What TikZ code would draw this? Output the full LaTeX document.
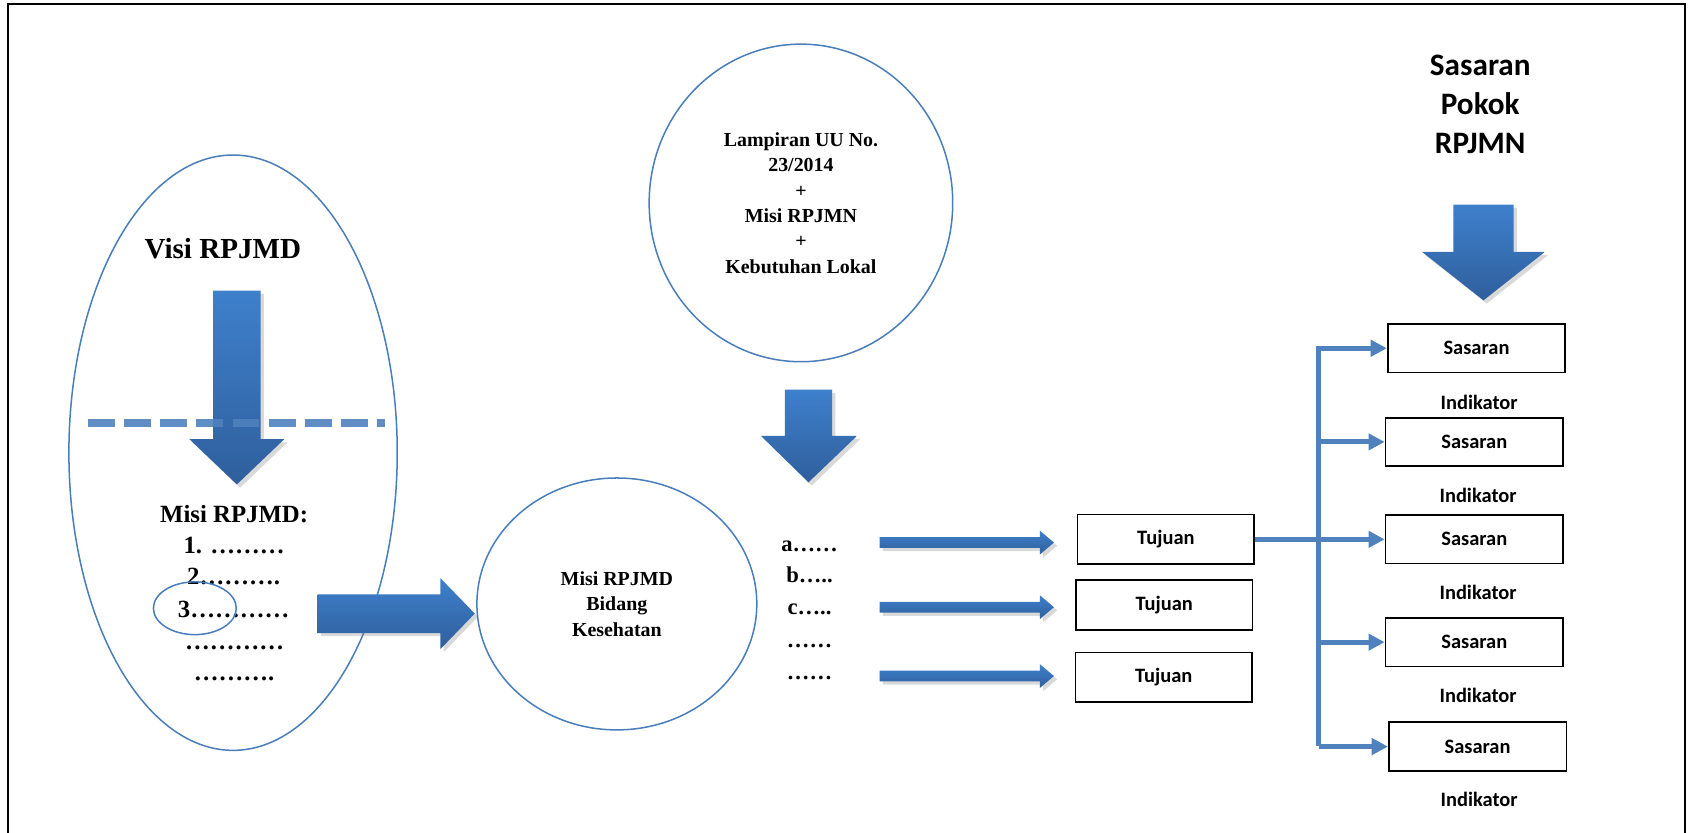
\documentclass[tikz,border=0pt]{standalone}
\usepackage{fontspec}
\setmainfont{Liberation Serif}
\newfontfamily\calibri{Carlito}
\usepackage{tikz}
\usetikzlibrary{shapes.geometric, arrows.meta, shadows, positioning}

\definecolor{outline}{HTML}{4A7EBB}
\definecolor{linkblue}{HTML}{4F81BD}
\definecolor{arrowtop}{HTML}{3E80CC}
\definecolor{arrowbot}{HTML}{2F5F9C}

\begin{document}
\begin{tikzpicture}[x=1pt, y=-1pt]
            %Block styles
            \tikzstyle{oval} = [draw=outline, line width=1.4pt, ellipse, inner sep=0pt]
            \tikzstyle{box} = [draw, line width=1.6pt, rectangle, minimum width=164pt, minimum height=46pt, font=\calibri\bfseries\fontsize{19pt}{22pt}\selectfont]
            \tikzstyle{ind} = [font=\calibri\bfseries\fontsize{19pt}{22pt}\selectfont]
            \tikzstyle{bigtext} = [anchor=base, font=\bfseries\fontsize{23pt}{26pt}\selectfont]
            \tikzstyle{listtext} = [anchor=base, font=\bfseries\fontsize{21pt}{24pt}\selectfont]
            \tikzstyle{blockarrow} = [top color=arrowtop, bottom color=arrowbot, drop shadow={shadow xshift=3pt, shadow yshift=-3pt, opacity=0.3}]
            \tikzstyle{link} = [linkblue, line width=4.6pt]
            \tikzstyle{branch} = [link, -{Triangle[length=15pt, width=15pt]}]

            \useasboundingbox (0,0) rectangle (1568,773);
            \draw[line width=1.8pt] (7.5,4) rectangle (1565,800);

            %Visi / Misi RPJMD
            \path[blockarrow] (198,270) -- (242,270) -- (242,408) -- (264,408) -- (220,450) -- (176,408) -- (198,408) -- cycle;
            \draw[linkblue, opacity=0.9, line width=7.7pt, dash pattern=on 25pt off 8.5pt] (82,393) -- (358,393);
            \node[oval, minimum width=305pt, minimum height=553pt] (visibox) at (216.5,420.5) {};
            \node[bigtext, font=\bfseries\fontsize{27pt}{30pt}\selectfont] (visi) at (207,240) {Visi RPJMD};
            \node[bigtext] (misi) at (217.5,485) {Misi RPJMD:};
            \node[bigtext] (m1) at (217.5,514) {1. ………};
            \node[bigtext] (m2) at (217,543) {2……….};
            \node[bigtext] (m3) at (217,574) {3…………};
            \node[bigtext] (m4) at (218,603) {…………};
            \node[bigtext] (m5) at (217.5,632) {……….};
            \node[oval, minimum width=77pt, minimum height=49pt] (three) at (181,565) {};

            \path[blockarrow] (295,552) -- (409,552) -- (409,537) -- (441,570) -- (409,603) -- (409,588) -- (295,588) -- cycle;

            %Misi bidang
            \node[oval, minimum width=260pt, minimum height=234pt, align=center, font=\bfseries\fontsize{18.5pt}{23.5pt}\selectfont] (bidang) at (573,561) {Misi RPJMD\\Bidang\\Kesehatan};
            \node[oval, minimum width=282pt, minimum height=295pt, align=center, font=\bfseries\fontsize{18.5pt}{23.6pt}\selectfont] (lampiran) at (744,188.5) {Lampiran UU No.\\23/2014\\+\\Misi RPJMN\\+\\Kebutuhan Lokal};
            \path[blockarrow] (729,362) -- (773,362) -- (773,405) -- (796,405) -- (751,448) -- (707,405) -- (729,405) -- cycle;

            \node[listtext] (la) at (752,512) {a……};
            \node[listtext] (lb) at (752,541) {b…..};
            \node[listtext] (lc) at (752,571) {c…..};
            \node[listtext] (ld) at (752,601) {……};
            \node[listtext] (le) at (752,631) {……};

            \foreach \c in {504,564,628}
                \path[blockarrow] (817,\c-5) -- (966,\c-5) -- (966,\c-11) -- (979,\c) -- (966,\c+11) -- (966,\c+5) -- (817,\c+5) -- cycle;

            %Tujuan
            \node[box] at (1083,501) (t1) {Tujuan};
            \node[box] at (1081.5,562) (t2) {Tujuan};
            \node[box] at (1081,629) (t3) {Tujuan};

            %Sasaran
            \node[align=center, font=\calibri\bfseries\fontsize{29pt}{36pt}\selectfont] (pokok) at (1375,97) {Sasaran\\Pokok\\RPJMN};
            \path[blockarrow] (1350,190) -- (1406,190) -- (1406,234) -- (1435,234) -- (1378,279) -- (1321,234) -- (1350,234) -- cycle;

            \node[box, minimum width=165pt, minimum height=45pt] at (1371.5,323.5) (s1) {Sasaran};
            \node[box, minimum width=165pt, minimum height=45pt] at (1369.5,410.5) (s2) {Sasaran};
            \node[box, minimum width=165pt, minimum height=45pt] at (1369.5,501) (s3) {Sasaran};
            \node[box, minimum width=165pt, minimum height=45pt] at (1369.5,596.5) (s4) {Sasaran};
            \node[box, minimum width=165pt, minimum height=45pt] at (1372.5,693.5) (s5) {Sasaran};
            \node[ind] at (1374,374) (i1) {Indikator};
            \node[ind] at (1373,460) (i2) {Indikator};
            \node[ind] at (1373,550) (i3) {Indikator};
            \node[ind] at (1373,646) (i4) {Indikator};
            \node[ind] at (1374,743) (i5) {Indikator};

            \coordinate (spinetop) at (1225,321);
            \coordinate (spinebot) at (1225,693);
            \draw[link] (spinetop) -- (spinebot);
            \draw[link] (t1.east) -- (t1.east -| spinetop);
            \draw[branch] (s1.west -| spinetop) -- (s1.west);
            \draw[branch] (s2.west -| spinetop) -- (s2.west);
            \draw[branch] (s3.west -| spinetop) -- (s3.west);
            \draw[branch] (s4.west -| spinetop) -- (s4.west);
            \draw[branch] (s5.west -| spinetop) -- (s5.west);
        \end{tikzpicture}
\end{document}
